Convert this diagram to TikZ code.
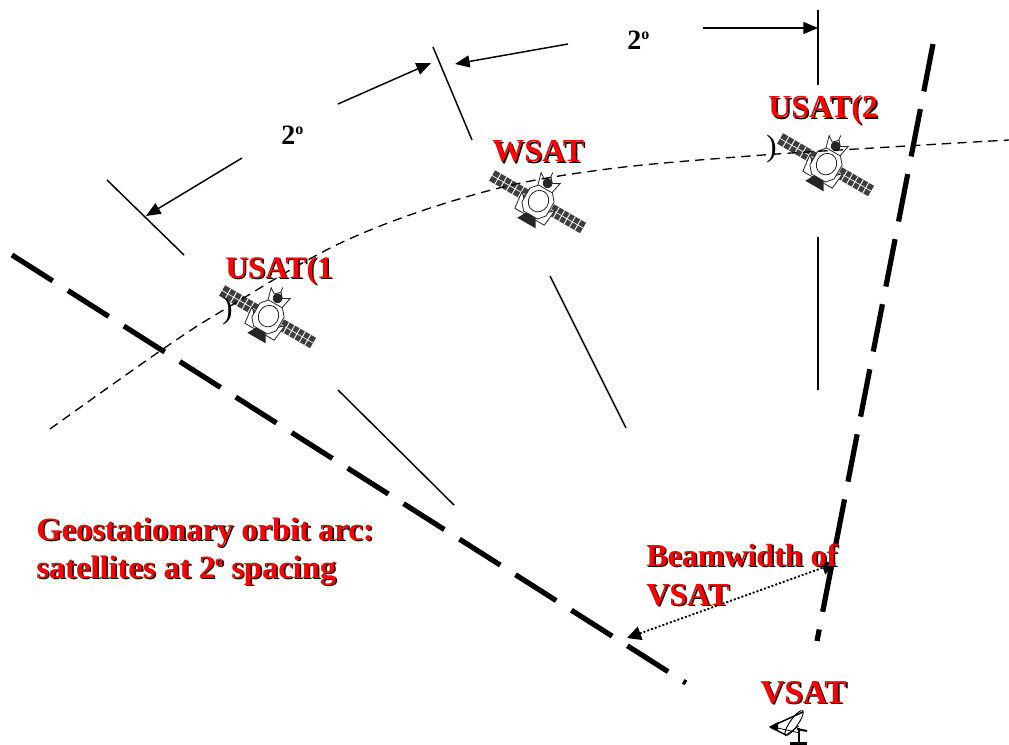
\documentclass[tikz,border=0pt]{standalone}
\usepackage{fontspec}
\setmainfont{Liberation Serif}
\usetikzlibrary{arrows.meta}
\definecolor{labelred}{RGB}{255,0,0}
\definecolor{panelgrey}{RGB}{62,62,62}
\newcommand{\shadowed}[1]{\rlap{\kern1.2pt\raisebox{-1.2pt}{\color{black}#1}}{\color{labelred}#1}}
\newcommand{\degmark}[1]{\raisebox{0.36em}{\fontsize{#1}{#1}\selectfont o}}
\tikzset{
  redlabel/.style={anchor=base west,inner sep=0pt,font=\fontsize{24pt}{28pt}\selectfont\bfseries},
  anglelabel/.style={anchor=base west,inner sep=0pt,font=\fontsize{21pt}{24pt}\selectfont\bfseries},
  parenmark/.style={anchor=base west,inner sep=0pt,font=\fontsize{23.2pt}{27pt}\selectfont},
  beamedge/.style={line width=3.9pt,dash pattern=on 36.2pt off 13.5pt},
  tick/.style={line width=1.1pt},
  spanarrow/.style={line width=1.1pt,-{Triangle[length=11pt,width=9pt]}},
  orbitarc/.style={line width=1pt,dash pattern=on 7pt off 4.6pt},
  beamarrow/.style={line width=1.4pt,dash pattern=on 1.5pt off 1.5pt,{Triangle[length=10.5pt,width=10.5pt]}-{Triangle[length=10.5pt,width=10.5pt]}},
  satline/.style={line width=0.6pt,draw=black!85,fill=white},
  pics/satellite/.style={code={
    % panels
    \foreach \xa/\xb in {-53/-13,15/52}{
      \fill[panelgrey] (\xa,-6) rectangle (\xb,6);
      \draw[white,line width=0.5pt] (\xa,0) -- (\xb,0);
      \foreach \k in {1,...,5}{
        \draw[white,line width=0.7pt] ({\xa+(\xb-\xa)*\k/6},-6) -- ({\xa+(\xb-\xa)*\k/6},6);
      }
    }
    % antenna and dish frame
    \draw[line width=0.6pt,black!85] (-1,-25) -- (-2,-33);
    \draw[satline] (-12,-27) -- (-8,-13) -- (7,-13) -- (10,-27) -- (3,-23) -- (-1,-28) -- (-6,-23) -- cycle;
    \fill[black!85] (-1,-21) circle (5);
    % lower frame
    \draw[satline] (-8,10) -- (-19,-1) -- (-17,17) -- (17,17) -- (19,-1) -- (8,10);
    % body
    \draw[satline] (-8,-15) -- (8,-15) -- (14,-8) -- (14,8) -- (8,15) -- (-8,15) -- (-14,8) -- (-14,-8) -- cycle;
    \draw[satline] (0,-1) ellipse (10 and 11);
    % foot
    \fill[black!85] (-5,15) -- (6,15) -- (11,24) -- (-10,24) -- cycle;
  }}
}
\begin{document}
\begin{tikzpicture}[x=0.75pt,y=-0.75pt]
\useasboundingbox (0,0) rectangle (1009,745);

% satellites
\pic[rotate=-30] (sata) at (268,317) {satellite};
\pic[rotate=-30] (satb) at (538,202) {satellite};
\pic[rotate=-30] (satc) at (826,165) {satellite};

% named end points
\coordinate (la1) at (12,255);   \coordinate (la2) at (686,683);
\coordinate (ra1) at (933,44);   \coordinate (ra2) at (817,641);
\coordinate (t1a) at (107,180);  \coordinate (t1b) at (184,255);
\coordinate (t2a) at (433,47);   \coordinate (t2b) at (472,140);
\coordinate (t3a) at (818,10);   \coordinate (t3b) at (818,85);
\coordinate (r1a) at (338,390);  \coordinate (r1b) at (454,505);
\coordinate (r2a) at (550,276);  \coordinate (r2b) at (626,428);
\coordinate (r3a) at (818,237);  \coordinate (r3b) at (818,390);
\coordinate (s1a) at (242,158);  \coordinate (s1b) at (146,216);
\coordinate (s2a) at (338,104);  \coordinate (s2b) at (431,63);
\coordinate (s3a) at (568,44);   \coordinate (s3b) at (455,64);
\coordinate (s4a) at (703,28);   \coordinate (s4b) at (818,28);
\coordinate (ba) at (627,638);   \coordinate (bb) at (836,563);

% long lines
\draw[beamedge] (la1) -- (la2);
\draw[beamedge] (ra1) -- (ra2);
\draw[tick] (t1a) -- (t1b);
\draw[tick] (t2a) -- (t2b);
\draw[tick] (t3a) -- (t3b);
\draw[tick] (r1a) -- (r1b);
\draw[tick] (r2a) -- (r2b);
\draw[tick] (r3a) -- (r3b);
\draw[spanarrow] (s1a) -- (s1b);
\draw[spanarrow] (s2a) -- (s2b);
\draw[spanarrow] (s3a) -- (s3b);
\draw[spanarrow] (s4a) -- (s4b);
\draw[orbitarc] plot[smooth,tension=0.6] coordinates {(50,429) (163,349) (227,308) (347,240) (480,193) (600,170) (750,156) (890,147) (1009,140)};
\draw[beamarrow] (ba) -- (bb);

% VSAT terminal
\fill (790,741.5) rectangle (807,745);
\draw[line width=1.7pt] (799,728) -- (799,742);
\draw[line width=1.5pt] (797,729) -- (807,731);
\draw[line width=0.7pt,rotate around={55:(794,723)}] (794,723) ellipse (15 and 4);
\draw[line width=1.1pt] (770,727) -- (803,712);
\draw[line width=1.1pt] (770,727) -- (786,735);
\draw[line width=0.6pt] (773,727) -- (800,733);
\draw[line width=0.6pt] (786,735) -- (799,726);
\fill (769,727) -- (778,722) -- (778,731) -- cycle;

% labels
\node[parenmark] (paren1) at (222,318) {)};
\node[parenmark] (paren2) at (766,157) {)};
\node[redlabel,font=\fontsize{23.5pt}{28pt}\selectfont\bfseries] (usata) at (225,278) {\shadowed{USAT(1}};
\node[redlabel] (wsat) at (492,162) {\shadowed{WSAT}};
\node[redlabel] (usatb) at (768,118) {\shadowed{USAT(2}};
\node[anglelabel] (anglea) at (281,145) {2\degmark{12pt}};
\node[anglelabel] (angleb) at (627,50) {2\degmark{12pt}};
\node[redlabel,font=\fontsize{24.4pt}{28pt}\selectfont\bfseries] (geoa) at (36,540) {\shadowed{Geostationary orbit arc:}};
\node[redlabel,font=\fontsize{24.4pt}{28pt}\selectfont\bfseries] (geob) at (36,578) {\shadowed{satellites at 2\degmark{12pt} spacing}};
\node[redlabel] (beama) at (646,566) {\shadowed{Beamwidth of}};
\node[redlabel] (beamb) at (646,605) {\shadowed{VSAT}};
\node[redlabel,font=\fontsize{25pt}{28pt}\selectfont\bfseries] (vsat) at (760,703) {\shadowed{VSAT}};
\end{tikzpicture}
\end{document}
